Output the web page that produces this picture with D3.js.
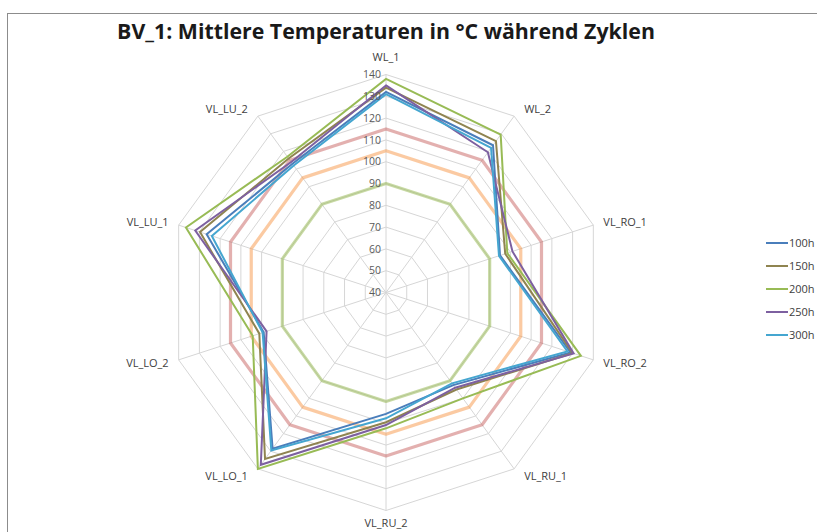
<!DOCTYPE html>
<html>
<head>
<meta charset="utf-8">
<script src="https://cdn.jsdelivr.net/npm/d3@7"></script>
<style>
  html, body { margin: 0; padding: 0; background: #fff; }
  svg { display: block; }
</style>
</head>
<body>
<svg id="chart" width="817" height="532"></svg>
<script>
// ---- data ----
const title = "BV_1: Mittlere Temperaturen in °C während Zyklen";
const categories = ["WL_1","WL_2","VL_RO_1","VL_RO_2","VL_RU_1","VL_RU_2","VL_LO_1","VL_LO_2","VL_LU_1","VL_LU_2"];
const seriesNames = ["100h","150h","200h","250h","300h"];
const s100h = [132, 123.5, 95, 129, 92.5, 95.7, 128.5, 99, 126.5, 113];
const s150h = [134, 125.8, 97.5, 130, 95, 99.5, 134.4, 101.1, 129.7, 116];
const s200h = [138, 129.5, 98.5, 134, 100, 102.3, 140, 104.3, 136.5, 117];
const s250h = [135, 119.5, 101, 130.5, 94, 100.8, 137.7, 97.6, 132, 114];
const s300h = [131, 122, 94.5, 127.5, 91.5, 97.7, 129.5, 99.5, 124, 112];
const limitLow = [90, 90, 90, 90, 90, 90, 90, 90, 90, 90];
const limitMid = [105, 105, 105, 105, 105, 105, 105, 105, 105, 105];
const limitHigh = [115, 115, 115, 115, 115, 115, 115, 115, 115, 115];
const tickValues = [40, 50, 60, 70, 80, 90, 100, 110, 120, 130, 140];

// ---- styling ----
const seriesColors = ["#4a7ebb", "#8f8450", "#98bb55", "#7d60a0", "#45a6d0"];
const limitColors = ["rgba(155,187,89,0.55)", "rgba(247,150,70,0.5)", "rgba(192,80,77,0.45)"];

const svg = d3.select("#chart");
const cx = 386, cy = 292.5, R = 218;

// frame
svg.append("rect").attr("x", 7.5).attr("y", 13.5).attr("width", 900).attr("height", 600)
  .attr("fill", "#fff").attr("stroke", "#8c8c8c").attr("stroke-width", 1);

const r = d3.scaleLinear().domain([40, 140]).range([0, R]);
const angle = d3.scaleLinear().domain([0, categories.length]).range([0, 2 * Math.PI]);
const pt = (i, v) => [cx + r(v) * Math.sin(angle(i)), cy - r(v) * Math.cos(angle(i))];

const g = svg.append("g");

// grid rings
tickValues.forEach(t => {
  if (t === 40) return;
  g.append("path")
    .attr("d", d3.line()(categories.map((c, i) => pt(i, t))) + "Z")
    .attr("fill", "none").attr("stroke", "#d6d6d6").attr("stroke-width", 1);
});
// spokes
categories.forEach((c, i) => {
  const [x, y] = pt(i, 140);
  g.append("line").attr("x1", cx).attr("y1", cy).attr("x2", x).attr("y2", y)
    .attr("stroke", "#d6d6d6").attr("stroke-width", 1);
});

const radarLine = d3.lineRadial()
  .angle((d, i) => angle(i))
  .radius(d => r(d))
  .curve(d3.curveLinearClosed);

// limit bands
[limitLow, limitMid, limitHigh].forEach((arr, k) => {
  g.append("path").attr("transform", `translate(${cx},${cy})`)
    .attr("d", radarLine(arr))
    .attr("fill", "none").attr("stroke", limitColors[k]).attr("stroke-width", 3.2)
    .attr("stroke-linejoin", "round");
});

// series
const seriesData = [s100h, s150h, s200h, s250h, s300h];
seriesData.forEach((arr, k) => {
  g.append("path").attr("transform", `translate(${cx},${cy})`)
    .attr("d", radarLine(arr))
    .attr("fill", "none").attr("stroke", seriesColors[k]).attr("stroke-width", 2)
    .attr("stroke-linejoin", "miter");
});

// tick labels
tickValues.forEach(t => {
  g.append("text").attr("x", cx - 5).attr("y", cy - r(t)).attr("dy", "0.35em")
    .attr("text-anchor", "end")
    .attr("font-family", "'Open Sans', sans-serif").attr("font-size", 10.5)
    .attr("fill", "#595959").text(t);
});

// category labels
categories.forEach((c, i) => {
  const a = angle(i);
  const s = Math.sin(a), co = Math.cos(a);
  const [x, y] = pt(i, 140);
  let anchor = "middle", dx = 0, dy = 0;
  if (Math.abs(s) < 0.01) {
    dy = co > 0 ? -17 : 13;
  } else {
    anchor = s > 0 ? "start" : "end";
    dx = s > 0 ? 10 : -10;
    dy = co > 0.5 ? -7 : (co < -0.5 ? 7 : (co > 0 ? -3 : 3));
  }
  g.append("text").attr("x", x + dx).attr("y", y + dy).attr("dy", "0.35em")
    .attr("text-anchor", anchor)
    .attr("font-family", "'Open Sans', sans-serif").attr("font-size", 11)
    .attr("fill", "#404040").text(c);
});

// title
const tt = svg.append("text").attr("x", 386).attr("y", 39).attr("text-anchor", "middle")
  .attr("font-family", "'Open Sans', sans-serif").attr("font-weight", "bold")
  .attr("font-size", 20).attr("fill", "#1a1a1a").text(title);
const w = tt.node().getComputedTextLength();
tt.attr("font-size", 20 * 538 / w);

// legend
const lg = svg.append("g");
seriesNames.forEach((n, k) => {
  const y = 243 + 23 * k;
  lg.append("line").attr("x1", 766).attr("x2", 788).attr("y1", y).attr("y2", y)
    .attr("stroke", seriesColors[k]).attr("stroke-width", 2);
  lg.append("text").attr("x", 789).attr("y", y).attr("dy", "0.35em")
    .attr("font-family", "'Open Sans', sans-serif").attr("font-size", 11)
    .attr("fill", "#404040").text(n);
});
</script>
</body>
</html>
